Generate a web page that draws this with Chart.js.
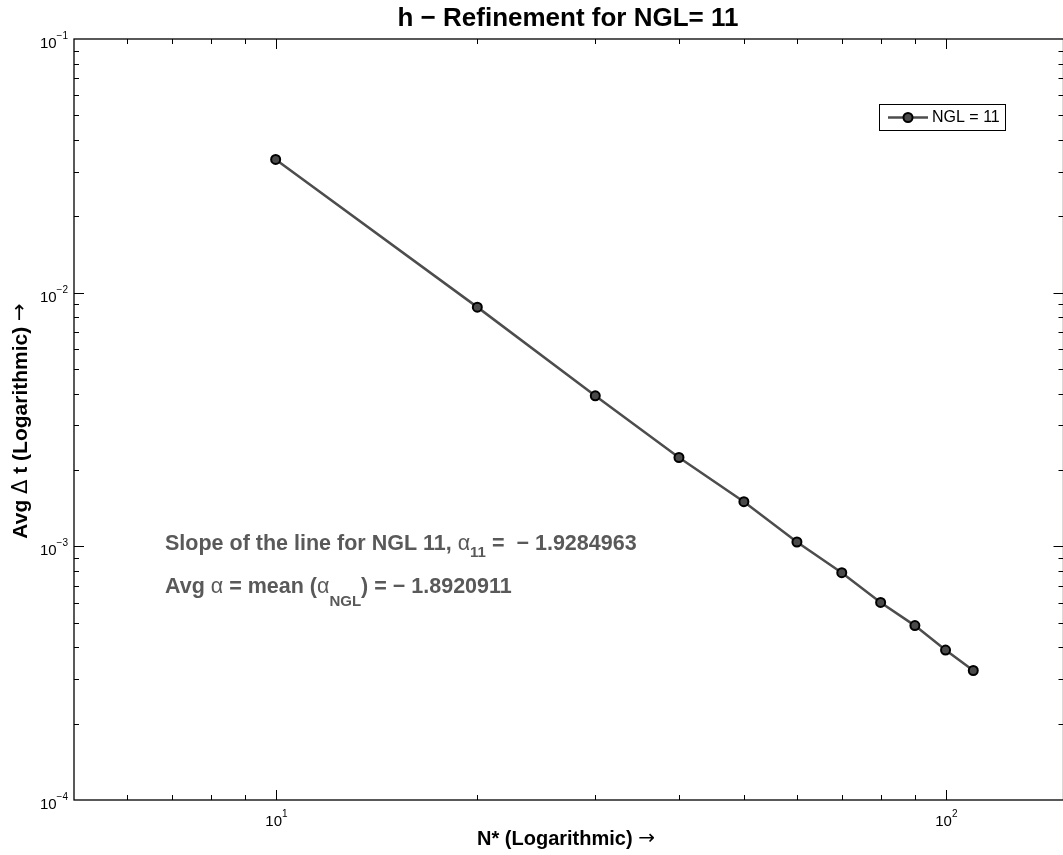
<!DOCTYPE html>
<html lang="en">
<head>
    <meta charset="UTF-8">
    <meta name="viewport" content="width=device-width, initial-scale=1.0">
    <script src="https://cdn.jsdelivr.net/npm/chart.js@4.4.1/dist/chart.umd.min.js"></script>
    <title>h - Refinement for NGL= 11</title>
    <style>
      html, body { margin: 0; padding: 0; background: #fff; overflow: hidden; }
      #refine { display: block; }
    </style>
</head>
<body>
    <canvas id="refine" width="1070" height="855"></canvas>

    <script>
      // data
      var nStar = [10, 20, 30, 40, 50, 60, 70, 80, 90, 100, 110]
      var avgDt = [0.0335, 0.00877, 0.00392, 0.00224, 0.00150, 0.00104, 0.000787, 0.000601, 0.000487, 0.000390, 0.000324]
      var seriesLabel = 'NGL = 11'

      var xMajor = [10, 100]
      var xMajorExp = ['1', '2']
      var yMajor = [1e-4, 1e-3, 1e-2, 1e-1]
      var yMajorExp = ['\u22124', '\u22123', '\u22122', '\u22121']

      var titleText = 'h \u2212 Refinement for NGL= 11'
      var xTitle = ['N* (Logarithmic) ', '\u2192']
      var yTitle = ['Avg ', '\u0394', ' t (Logarithmic) ', '\u2192']
      var slopeLine = ['Slope of the line for NGL 11, ', '\u03b1', '11', ' =  \u2212 1.9284963']
      var meanLine = ['Avg ', '\u03b1', ' = mean (', '\u03b1', 'NGL', ') = \u2212 1.8920911']

      var FONT = '"Liberation Sans", Arial, Helvetica, sans-serif'
      var SYM = '"DejaVu Sans", sans-serif'

      function partsWidth(ctx, parts) {
        var w = 0
        for (var i = 0; i < parts.length; i++) {
          ctx.font = parts[i][1]
          w += ctx.measureText(parts[i][0]).width
        }
        return w
      }

      function drawParts(ctx, x, y, parts) {
        // parts: [text, font, dy]
        ctx.textAlign = 'left'
        ctx.textBaseline = 'alphabetic'
        for (var i = 0; i < parts.length; i++) {
          ctx.font = parts[i][1]
          ctx.fillText(parts[i][0], x, y + (parts[i][2] || 0))
          x += ctx.measureText(parts[i][0]).width
        }
        return x
      }

      var matlabAxes = {
        id: 'matlabAxes',
        afterDraw: function(chart) {
          var ctx = chart.ctx
          var a = chart.chartArea
          var xs = chart.scales.x
          var ys = chart.scales.y
          ctx.save()

          // box
          ctx.strokeStyle = '#000'
          ctx.lineWidth = 1.3
          ctx.strokeRect(a.left, a.top, a.right - a.left, a.bottom - a.top)

          // ticks, inward, on all four sides
          ctx.lineWidth = 1
          ctx.beginPath()
          var d, k, v, p, len
          for (d = 1; d <= 100; d *= 10) {
            for (k = 1; k <= 9; k++) {
              v = k * d
              if (v <= xs.min || v >= xs.max) continue
              p = Math.round(xs.getPixelForValue(v)) + 0.5
              len = k == 1 ? 10 : 5
              ctx.moveTo(p, a.bottom); ctx.lineTo(p, a.bottom - len)
              ctx.moveTo(p, a.top); ctx.lineTo(p, a.top + len)
            }
          }
          for (d = 1e-4; d <= 0.1; d *= 10) {
            for (k = 1; k <= 9; k++) {
              v = k * d
              if (v <= ys.min * 1.0001 || v >= ys.max * 0.9999) continue
              p = Math.round(ys.getPixelForValue(v)) + 0.5
              len = k == 1 ? 10 : 5
              ctx.moveTo(a.left, p); ctx.lineTo(a.left + len, p)
              ctx.moveTo(a.right, p); ctx.lineTo(a.right - len, p)
            }
          }
          ctx.stroke()

          // tick labels 10^n
          ctx.fillStyle = '#000'
          var i, w
          for (i = 0; i < xMajor.length; i++) {
            p = xs.getPixelForValue(xMajor[i])
            ctx.font = '15px ' + FONT
            w = ctx.measureText('10').width
            drawParts(ctx, p - w / 2 - 2, a.bottom + 26, [['10', '15px ' + FONT, 0], [xMajorExp[i], '10px ' + FONT, -9]])
          }
          for (i = 0; i < yMajor.length; i++) {
            p = ys.getPixelForValue(yMajor[i])
            ctx.font = '10px ' + FONT
            var we = ctx.measureText(yMajorExp[i]).width
            ctx.font = '15px ' + FONT
            w = ctx.measureText('10').width
            drawParts(ctx, a.left - 6 - we - w, p + 9, [['10', '15px ' + FONT, 0], [yMajorExp[i], '10px ' + FONT, -9]])
          }

          // titles
          ctx.textBaseline = 'alphabetic'
          ctx.textAlign = 'center'
          ctx.font = 'bold 26px ' + FONT
          ctx.fillText(titleText, 568, 26)

          var tb = 'bold 20px ' + FONT
          var xt = [[xTitle[0], tb, 0], [xTitle[1], '20px ' + SYM, -1]]
          drawParts(ctx, 566 - partsWidth(ctx, xt) / 2, 845, xt)
          var yb = 'bold 21px ' + FONT
          var yt = [[yTitle[0], yb, 0], [yTitle[1], '21px ' + SYM, 0], [yTitle[2], yb, 0], [yTitle[3], '21px ' + SYM, -1]]
          ctx.save()
          ctx.translate(27, 421)
          ctx.rotate(-Math.PI / 2)
          drawParts(ctx, -partsWidth(ctx, yt) / 2, 0, yt)
          ctx.restore()

          // legend box
          var ds = chart.data.datasets[0]
          ctx.fillStyle = '#fff'
          ctx.fillRect(879.5, 104.5, 126, 26)
          ctx.strokeStyle = '#000'
          ctx.lineWidth = 1
          ctx.strokeRect(879.5, 104.5, 126, 26)
          ctx.strokeStyle = ds.borderColor
          ctx.lineWidth = ds.borderWidth
          ctx.beginPath()
          ctx.moveTo(888, 117.5); ctx.lineTo(928, 117.5)
          ctx.stroke()
          ctx.beginPath()
          ctx.arc(908, 117.5, ds.pointRadius, 0, Math.PI * 2)
          ctx.fillStyle = ds.pointBackgroundColor
          ctx.fill()
          ctx.lineWidth = ds.pointBorderWidth
          ctx.strokeStyle = ds.pointBorderColor
          ctx.stroke()
          ctx.fillStyle = '#000'
          ctx.textAlign = 'left'
          ctx.textBaseline = 'middle'
          ctx.font = '16px ' + FONT
          ctx.fillText(ds.label, 932, 118)

          // annotations
          ctx.fillStyle = '#595959'
          var bold = 'bold 21.5px ' + FONT
          var greek = '21.5px ' + FONT
          var sub = 'bold 15px ' + FONT
          drawParts(ctx, 165, 550, [[slopeLine[0], bold, 0], [slopeLine[1], greek, 0], [slopeLine[2], sub, 7], [slopeLine[3], bold, 0]])
          drawParts(ctx, 165, 593, [[meanLine[0], bold, 0], [meanLine[1], greek, 0], [meanLine[2], bold, 0],
            [meanLine[3], greek, 0], [meanLine[4], sub, 13], [meanLine[5], bold, 0]])

          ctx.restore()
        }
      }

      var points = []
      for (var i = 0; i < nStar.length; i++) {
        points.push({ x: nStar[i], y: avgDt[i] })
      }

      var refine = new Chart(document.getElementById('refine'), {
        type: 'line',
        data: {
          datasets: [{
            label: seriesLabel,
            data: points,
            borderColor: '#4d4d4d',
            borderWidth: 2.5,
            pointRadius: 4.5,
            pointHoverRadius: 4.5,
            pointBackgroundColor: '#4a4a4a',
            pointBorderColor: '#000',
            pointBorderWidth: 2,
            tension: 0
          }]
        },
        options: {
          responsive: false,
          animation: false,
          events: [],
          layout: { padding: { top: 39, right: 5, left: 0, bottom: 0 } },
          plugins: {
            legend: { display: false },
            title: { display: false },
            tooltip: { enabled: false }
          },
          scales: {
            x: {
              type: 'logarithmic',
              min: 5,
              max: 150,
              grid: { display: false },
              border: { display: false },
              ticks: { display: false },
              afterFit: function(scale) { scale.height = 55 }
            },
            y: {
              type: 'logarithmic',
              min: 1e-4,
              max: 1e-1,
              grid: { display: false },
              border: { display: false },
              ticks: { display: false },
              afterFit: function(scale) { scale.width = 74 }
            }
          }
        },
        plugins: [matlabAxes]
      })
    </script>
</body>
</html>
